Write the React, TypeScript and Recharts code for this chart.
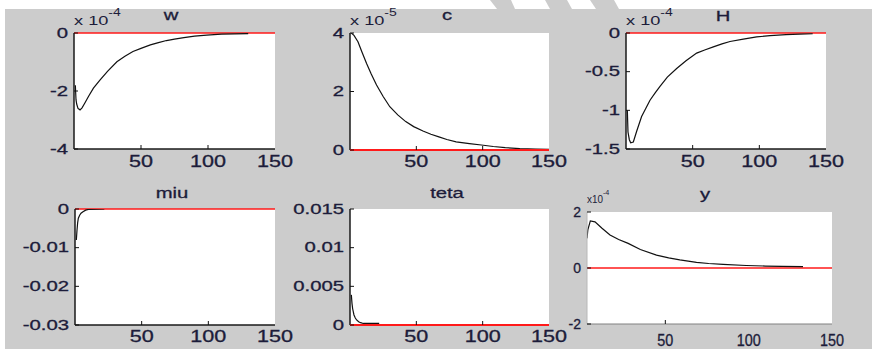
import React from "react";
import { CartesianGrid, Line, LineChart, ReferenceLine, XAxis, YAxis } from "recharts";

// w (x 10^-4)
const wT = [1, 1.5, 2, 3, 4.5, 6, 8, 11, 14.5, 19.5, 25, 32, 38, 44, 50, 57, 63, 69, 75, 82, 90, 99, 110, 120, 130];
const wV = [-1.8, -2.3, -2.45, -2.6, -2.65, -2.58, -2.42, -2.17, -1.9, -1.62, -1.32, -0.99, -0.8, -0.64, -0.53, -0.41, -0.33, -0.26, -0.21, -0.16, -0.11, -0.07, -0.04, -0.03, -0.02];

// c (x 10^-5)
const cT = [1, 3, 6, 9, 12.5, 16, 20, 25, 30, 36, 42, 48, 55, 61, 67, 73, 80, 90, 99, 108, 117, 128, 140, 150];
const cV = [4.0, 3.92, 3.7, 3.35, 2.96, 2.6, 2.22, 1.83, 1.48, 1.2, 0.97, 0.8, 0.65, 0.54, 0.45, 0.36, 0.28, 0.22, 0.17, 0.12, 0.08, 0.05, 0.03, 0.02];

// H (x 10^-4)
const hT = [1, 1.5, 2.5, 3.5, 5.5, 8, 11.7, 15, 18, 22, 25.5, 31, 38, 45, 53, 59, 65.5, 72, 78, 88, 98, 108, 120, 130, 140];
const hV = [-1.0, -1.28, -1.38, -1.42, -1.41, -1.27, -1.08, -0.97, -0.87, -0.77, -0.69, -0.57, -0.46, -0.36, -0.26, -0.22, -0.18, -0.14, -0.11, -0.08, -0.05, -0.035, -0.02, -0.015, -0.01];

// miu
const miuT = [1, 1.5, 2, 2.5, 3.5, 4.5, 6, 8, 10, 22];
const miuV = [-0.008, -0.0055, -0.0035, -0.0024, -0.0016, -0.0011, -0.0007, -0.0003, -0.0001, 0];

// teta
const tetaT = [1, 1.5, 2, 3, 4, 5, 6.5, 8, 10, 22];
const tetaV = [0.0039, 0.0028, 0.0021, 0.0013, 0.0009, 0.00065, 0.00042, 0.0003, 0.0002, 0.0002];

// y (x 10^-4)
const yT = [3, 3.5, 5, 7.8, 12, 16.8, 22, 27.7, 35, 44.7, 52, 58.7, 68.7, 76, 84.6, 98.6, 110, 120, 132.6];
const yV = [1.06, 1.36, 1.68, 1.65, 1.42, 1.18, 1.02, 0.88, 0.66, 0.46, 0.36, 0.29, 0.2, 0.16, 0.13, 0.09, 0.07, 0.06, 0.05];

const xTicks = [50, 100, 150];
const wTicks = [-4, -2, 0];
const cTicks = [0, 2, 4];
const hTicks = [-1.5, -1, -0.5, 0];
const miuTicks = [-0.03, -0.02, -0.01, 0];
const tetaTicks = [0, 0.005, 0.01, 0.015];
const yTicks = [-2, 0, 2];

const TXT = "#1c1c3a";
const RED = "#ff1a1a";
const FONT = "'Liberation Sans', Arial, Helvetica, sans-serif";
const ML = 80;
const MT = 30;
const MR = 30;
const MB = 40;

interface PanelCfg {
  left: number;
  top: number;
  width: number;
  height: number;
  t: number[];
  v: number[];
  xDomain: [number, number];
  yDomain: [number, number];
  yTicks: number[];
  innerX: number[];
  box: string;
  side: string;
  boxW: number;
  zeroEdge: string;
  xFs: number;
  xSx: number;
  xDy: number;
  yFs: number;
  ySx: number;
}

const mkTick = (kind: string, cfg: PanelCfg) => (p: any) => {
  const { x, y, payload } = p;
  const val = payload.value;
  const mark = kind === "bottom" || kind === "top" ? cfg.innerX.includes(val) : true;
  const len = 4;
  const col = "#111";
  if (kind === "bottom") {
    return (
      <g>
        {mark && <line x1={x} x2={x} y1={y} y2={y - len} stroke={col} />}
        <text
          transform={`translate(${x} ${y + cfg.xDy}) scale(${cfg.xSx} 1)`}
          textAnchor="middle"
          dominantBaseline="central"
          fontSize={cfg.xFs}
          fontFamily={FONT}
          fill={TXT}
          stroke={TXT}
          strokeWidth={0.3}
        >
          {val}
        </text>
      </g>
    );
  }
  if (kind === "top") {
    return mark ? <line x1={x} x2={x} y1={y} y2={y + len} stroke={col} /> : <g />;
  }
  if (kind === "left") {
    return (
      <g>
        <line x1={x} x2={x + len} y1={y} y2={y} stroke={col} />
        <text
          transform={`translate(${x - 6} ${y}) scale(${cfg.ySx} 1)`}
          textAnchor="end"
          dominantBaseline="central"
          fontSize={cfg.yFs}
          fontFamily={FONT}
          fill={TXT}
          stroke={TXT}
          strokeWidth={0.3}
        >
          {String(val)}
        </text>
      </g>
    );
  }
  return <line x1={x} x2={x - len} y1={y} y2={y} stroke={col} />;
};

function Panel({ cfg }: { cfg: PanelCfg }) {
  const data = cfg.t.map((t, i) => ({ t, v: cfg.v[i] }));
  const bottomCol = cfg.zeroEdge === "bottom" ? RED : cfg.box;
  const topCol = cfg.zeroEdge === "top" ? RED : cfg.box;
  return (
    <div style={{ position: "absolute", left: cfg.left - ML, top: cfg.top - MT }}>
      <LineChart
        width={ML + cfg.width + MR}
        height={MT + cfg.height + MB}
        data={data}
        margin={{ top: MT, right: MR, bottom: 0, left: 0 }}
      >
        <CartesianGrid fill="#ffffff" horizontal={false} vertical={false} />
        <YAxis
          type="number"
          domain={cfg.yDomain}
          ticks={cfg.yTicks}
          interval={0}
          allowDataOverflow
          width={ML}
          tickSize={0}
          tickMargin={0}
          axisLine={{ stroke: cfg.side, strokeWidth: cfg.boxW }}
          tickLine={false}
          tick={mkTick("left", cfg)}
        />
        <YAxis
          yAxisId="right"
          orientation="right"
          type="number"
          domain={cfg.yDomain}
          ticks={cfg.yTicks}
          interval={0}
          allowDataOverflow
          width={0}
          tickSize={0}
          tickMargin={0}
          axisLine={{ stroke: cfg.side, strokeWidth: cfg.boxW + 0.5 }}
          tickLine={false}
          tick={mkTick("right", cfg)}
        />
        <XAxis
          dataKey="t"
          type="number"
          domain={cfg.xDomain}
          ticks={xTicks}
          interval={0}
          allowDataOverflow
          height={MB}
          tickSize={0}
          tickMargin={0}
          axisLine={{ stroke: bottomCol, strokeWidth: cfg.zeroEdge === "bottom" ? 1.8 : cfg.boxW }}
          tickLine={false}
          tick={mkTick("bottom", cfg)}
        />
        <XAxis
          xAxisId="top"
          orientation="top"
          type="number"
          domain={cfg.xDomain}
          ticks={xTicks}
          interval={0}
          allowDataOverflow
          height={0}
          tickSize={0}
          tickMargin={0}
          axisLine={{ stroke: topCol, strokeWidth: cfg.zeroEdge === "top" ? 1.8 : cfg.boxW }}
          tickLine={false}
          tick={mkTick("top", cfg)}
        />
        <ReferenceLine y={0} stroke={RED} strokeWidth={1.6} />
        <Line
          dataKey="v"
          type="linear"
          stroke="#111111"
          strokeWidth={1.2}
          dot={false}
          isAnimationActive={false}
        />
      </LineChart>
    </div>
  );
}

const base = {
  xDomain: [0, 150] as [number, number],
  innerX: [50, 100],
  box: "#1a1a1a",
  side: "#1a1a1a",
  boxW: 1.5,
  xFs: 16,
  xSx: 1.35,
  yFs: 14,
  ySx: 1.45,
};

const panels: PanelCfg[] = [
  { ...base, left: 74, top: 33, width: 201, height: 116, t: wT, v: wV, yDomain: [-4, 0], yTicks: wTicks, zeroEdge: "top", xDy: 13 },
  { ...base, left: 350, top: 33, width: 199, height: 117, t: cT, v: cV, yDomain: [0, 4], yTicks: cTicks, zeroEdge: "bottom", xDy: 12 },
  { ...base, left: 626, top: 33, width: 200, height: 116, t: hT, v: hV, yDomain: [-1.5, 0], yTicks: hTicks, zeroEdge: "top", xDy: 13 },
  { ...base, left: 75, top: 209, width: 200, height: 116, t: miuT, v: miuV, yDomain: [-0.03, 0], yTicks: miuTicks, zeroEdge: "top", xDy: 12 },
  { ...base, left: 350, top: 209, width: 199, height: 116, t: tetaT, v: tetaV, yDomain: [0, 0.015], yTicks: tetaTicks, zeroEdge: "bottom", xDy: 12 },
  {
    ...base,
    left: 587,
    top: 212,
    width: 245,
    height: 112,
    t: yT,
    v: yV,
    xDomain: [3, 150],
    innerX: [50],
    box: "#808080",
    side: "#b8b8b8",
    boxW: 1,
    zeroEdge: "none",
    yDomain: [-2, 2],
    yTicks: yTicks,
    xFs: 16,
    xSx: 0.9,
    xDy: 16,
    yFs: 14,
    ySx: 1.0,
  },
];

const titles = [
  { text: "w", x: 171, y: 20 },
  { text: "c", x: 447, y: 20 },
  { text: "H", x: 723, y: 21 },
  { text: "miu", x: 172, y: 198 },
  { text: "teta", x: 447, y: 198 },
  { text: "y", x: 705, y: 199 },
];

const exps = [
  { x: 74, y: 25, e: "-4", fs: 13 },
  { x: 350, y: 25, e: "-5", fs: 13 },
  { x: 626, y: 25, e: "-4", fs: 13 },
];

export default function App() {
  return (
    <div
      style={{
        position: "absolute",
        left: 0,
        top: 0,
        width: 872,
        height: 349,
        overflow: "hidden",
        background: "#ffffff",
        fontFamily: FONT,
      }}
    >
      <div style={{ position: "absolute", left: 5, top: 9, right: 0, bottom: 0, background: "#cccccc" }} />
      <svg width={872} height={349} style={{ position: "absolute", left: 0, top: 0 }}>
        <polygon points="490,0 511,0 515,9 497,9" fill="#cccccc" />
        <polygon points="545,0 567,0 572,9 550,9" fill="#cccccc" />
        <polygon points="590,0 614,0 619,9 596,9" fill="#cccccc" />
      </svg>
      {panels.map((p, i) => (
        <Panel key={i} cfg={p} />
      ))}
      <svg width={872} height={349} style={{ position: "absolute", left: 0, top: 0, pointerEvents: "none" }}>
        {titles.map((t) => (
          <text
            key={t.text}
            transform={`translate(${t.x} ${t.y}) scale(1.35 1)`}
            textAnchor="middle"
            fontSize={15}
            fontFamily={FONT}
            fill={TXT}
            stroke={TXT}
            strokeWidth={0.3}
          >
            {t.text}
          </text>
        ))}
        {exps.map((e, i) => (
          <text key={i} transform={`translate(${e.x} ${e.y}) scale(1.4 1)`} fontSize={e.fs} fontFamily={FONT} fill={TXT}>
            x 10
            <tspan dy={-9} fontSize={10}>
              {e.e}
            </tspan>
          </text>
        ))}
        <text transform="translate(587 203) scale(0.9 1)" fontSize={11} fontFamily={FONT} fill={TXT}>
          x10
          <tspan dy={-8} fontSize={8}>
            -4
          </tspan>
        </text>
      </svg>
    </div>
  );
}
